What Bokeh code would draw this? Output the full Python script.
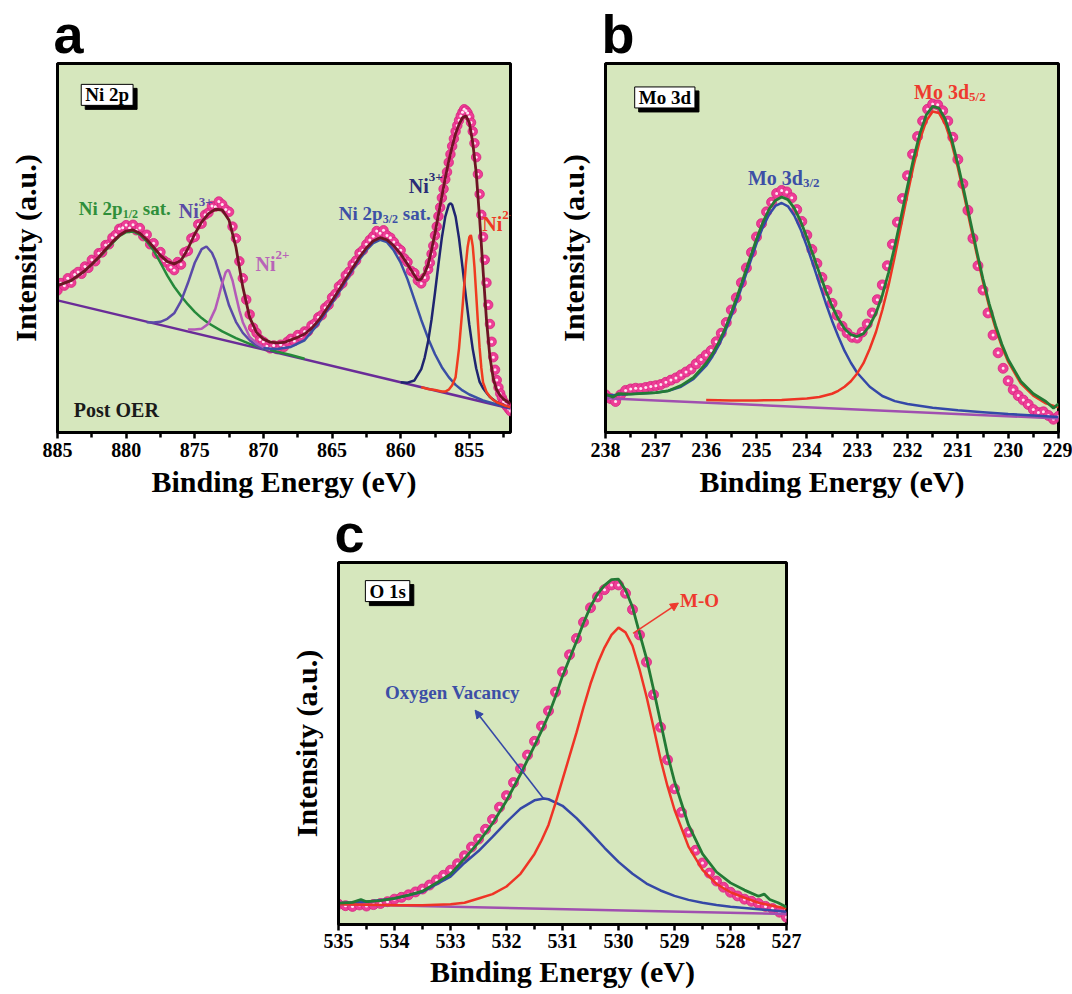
from bokeh.plotting import figure
from bokeh.models import Label, Arrow, NormalHead, FixedTicker, Range1d, Spacer
from bokeh.layouts import row, column
from bokeh.embed import file_html
from bokeh.resources import INLINE

# ---------------- data (binding energy eV, intensity in arbitrary units 0-100) ----------------
# Panel a : Ni 2p
a_ticks = [885, 880, 875, 870, 865, 860, 855]
a_minor = [882.5, 877.5, 872.5, 867.5, 862.5, 857.5, 852.5]
a_data = [
    (885.0, 38.5), (884.75, 40.5), (884.5, 39.8), (884.25, 41.8), (884.0, 40.6), (883.75, 42.8),
    (883.5, 43.5), (883.25, 43.0), (883.0, 45.0), (882.75, 44.6), (882.5, 46.8), (882.25, 46.4),
    (882.0, 48.6), (881.75, 48.8), (881.5, 50.8), (881.25, 51.0), (881.0, 52.8), (880.75, 53.6),
    (880.5, 55.2), (880.25, 55.5), (880.0, 56.2), (879.75, 55.4), (879.5, 56.3), (879.25, 54.8),
    (879.0, 55.4), (878.75, 53.2), (878.5, 53.6), (878.25, 51.0), (878.0, 51.3), (877.75, 48.4),
    (877.5, 48.9), (877.25, 46.6), (877.0, 46.0), (876.75, 44.8), (876.5, 44.0), (876.25, 46.2),
    (876.0, 45.5), (875.75, 48.8), (875.5, 49.2), (875.25, 52.6), (875.0, 53.0), (874.75, 56.4),
    (874.5, 56.6), (874.25, 59.0), (874.0, 59.6), (873.75, 61.4), (873.5, 61.2), (873.25, 62.6),
    (873.0, 61.8), (872.75, 60.4), (872.5, 59.8), (872.25, 55.8), (872.0, 52.6), (871.75, 46.4),
    (871.5, 41.8), (871.25, 36.0), (871.0, 32.0), (870.75, 28.4), (870.5, 27.0), (870.25, 25.2),
    (870.0, 24.6), (869.75, 23.4), (869.5, 22.8), (869.25, 23.6), (869.0, 22.6), (868.75, 23.8),
    (868.5, 23.2), (868.25, 24.6), (868.0, 25.4), (867.75, 24.8), (867.5, 26.4), (867.25, 26.0),
    (867.0, 27.4), (866.75, 27.4), (866.5, 29.0), (866.25, 29.6), (866.0, 31.2), (865.75, 31.8),
    (865.5, 33.8), (865.25, 34.6), (865.0, 36.6), (864.75, 37.6), (864.5, 39.6), (864.25, 40.4),
    (864.0, 42.6), (863.75, 43.6), (863.5, 45.6), (863.25, 46.6), (863.0, 48.6), (862.75, 49.4),
    (862.5, 51.0), (862.25, 52.2), (862.0, 53.2), (861.75, 54.6), (861.5, 54.0), (861.25, 54.8),
    (861.0, 53.4), (860.75, 52.8), (860.5, 51.6), (860.25, 50.2), (860.0, 49.4), (859.75, 47.2),
    (859.5, 46.2), (859.25, 43.8), (859.0, 43.2), (858.75, 41.2), (858.5, 40.4), (858.25, 42.0),
    (858.0, 44.2), (857.875, 46.0), (857.75, 48.4), (857.625, 50.6), (857.5, 53.4), (857.375, 55.8),
    (857.25, 58.6), (857.125, 61.0), (857.0, 63.6), (856.875, 66.0), (856.75, 68.6), (856.625, 70.6),
    (856.5, 73.2), (856.375, 75.4), (856.25, 77.6), (856.125, 79.6), (856.0, 81.6), (855.875, 83.2),
    (855.75, 84.6), (855.625, 85.8), (855.5, 86.8), (855.375, 87.6), (855.25, 87.2), (855.125, 86.6),
    (855.0, 85.6), (854.875, 84.0), (854.75, 81.6), (854.625, 78.4), (854.5, 74.6), (854.375, 70.0),
    (854.25, 64.6), (854.125, 59.0), (854.0, 53.0), (853.875, 46.8), (853.75, 40.6), (853.625, 34.6),
    (853.5, 29.4), (853.375, 24.6), (853.25, 20.4), (853.125, 17.0), (853.0, 14.2), (852.875, 12.2),
    (852.75, 10.6), (852.625, 9.4), (852.5, 8.4), (852.375, 7.6), (852.25, 7.0), (852.125, 6.4),
    (852.0, 5.8),
]
a_envelope = [
    (885, 39.8), (884.5, 40.5), (884, 41.2), (883.5, 42.5), (883, 43.9), (882.5, 45.6), (882, 47.5),
    (881.5, 49.6), (881, 51.6), (880.5, 53.4), (880, 54.6), (879.5, 54.9), (879, 54.0), (878.5, 52.3),
    (878, 50.2), (877.5, 48.0), (877, 46.3), (876.5, 45.7), (876, 46.6), (875.5, 49.8), (875, 53.8),
    (874.5, 57.0), (874, 59.3), (873.5, 60.5), (873, 60.3), (872.5, 57.5), (872, 50.2), (871.5, 39.4),
    (871, 31.2), (870.5, 27.1), (870, 25.3), (869.5, 24.5), (869, 24.3), (868.5, 24.4), (868, 25.1),
    (867.5, 25.8), (867, 26.7), (866.5, 28.2), (866, 30.3), (865.5, 32.9), (865, 35.7), (864.5, 38.6),
    (864, 41.6), (863.5, 44.6), (863, 47.5), (862.5, 50.0), (862, 51.9), (861.5, 52.8), (861, 52.2),
    (860.5, 50.6), (860, 48.4), (859.5, 45.6), (859, 42.6), (858.75, 41.2), (858.5, 41.6),
    (858.25, 43.2), (858, 45.5), (857.75, 49.5), (857.5, 54.0), (857.25, 59.0), (857, 64.0),
    (856.75, 69.0), (856.5, 73.5), (856.25, 77.5), (856, 81.0), (855.75, 83.5), (855.5, 85.3),
    (855.25, 85.8), (855, 84.0), (854.75, 78.5), (854.5, 70.5), (854.25, 58.0), (854, 44.0),
    (853.75, 30.5), (853.5, 20.5), (853.25, 14.5), (853, 11.5), (852.75, 10.0), (852.5, 9.0),
    (852.25, 8.4), (852, 7.8),
]
a_sat_12 = [
    (885, 39.8), (884, 41.2), (883, 43.8), (882, 47.3), (881, 51.3), (880.5, 53.2), (880, 54.3),
    (879.5, 54.5), (879, 53.6), (878.5, 51.8), (878, 49.3), (877.5, 46.0), (877, 42.5), (876.5, 39.5),
    (876, 37.0), (875.5, 34.7), (875, 32.7), (874.5, 31.0), (874, 29.6), (873, 27.4), (872, 25.6),
    (871, 24.0), (870, 22.8), (869, 21.9), (868, 21.0), (867, 20.0),
]
a_ni3_12 = [
    (878.5, 29.9), (878, 29.8), (877.5, 30.0), (877, 30.8), (876.5, 32.3), (876, 35.6), (875.5, 40.5),
    (875, 46.0), (874.5, 49.7), (874.15, 50.4), (873.75, 48.7), (873.5, 46.6), (873, 40.7),
    (872.5, 34.4), (872, 30.0), (871.5, 27.0), (871, 25.0), (870.5, 23.6), (870, 22.6),
]
a_ni2_12 = [
    (875.5, 27.9), (875, 27.9), (874.5, 28.1), (874, 29.5), (873.5, 33.5), (873.25, 36.9), (873, 40.5),
    (872.75, 43.4), (872.58, 44.1), (872.5, 43.8), (872.25, 41.2), (872, 37.1), (871.75, 33.1),
    (871.5, 29.9), (871, 25.9), (870.5, 24.2), (870, 23.1), (869.5, 22.4),
]
a_sat_32 = [
    (870, 22.8), (869, 22.6), (868, 23.2), (867, 25.0), (866, 29.5), (865.5, 32.3), (865, 35.1),
    (864.5, 38.0), (864, 41.0), (863.5, 44.0), (863, 46.9), (862.5, 49.4), (862, 51.3), (861.5, 52.2),
    (861, 51.6), (860.5, 49.3), (860, 46.0), (859.5, 41.5), (859, 36.0), (858.5, 30.5), (858, 25.5),
    (857.5, 21.2), (857, 17.7), (856.5, 15.0), (856, 12.9), (855.5, 11.4), (855, 10.3), (854, 8.7),
    (853, 7.6), (852, 6.6),
]
a_ni3_32 = [
    (860, 13.6), (859.5, 13.5), (859, 14.1), (858.5, 17.2), (858.25, 20.3), (858, 24.7), (857.75, 30.7),
    (857.5, 37.9), (857.25, 45.6), (857, 52.8), (856.75, 58.5), (856.5, 61.7), (856.36, 62.1),
    (856.25, 61.7), (856, 58.5), (855.75, 52.6), (855.5, 44.9), (855.25, 36.8), (855, 29.2),
    (854.75, 22.6), (854.5, 17.4), (854.25, 13.7), (854, 12.0), (853.75, 10.8), (853.5, 9.6),
    (853, 8.2), (852.5, 7.4), (852, 6.8),
]
a_ni2_32 = [
    (858.5, 12.3), (858, 11.8), (857.5, 11.5), (857, 11.1), (856.75, 11.1), (856.5, 11.6), (856.25, 12.8),
    (856, 15.0), (855.75, 22.8), (855.5, 33.7), (855.25, 45.6), (855.125, 50.2), (855, 52.9),
    (854.91, 53.4), (854.875, 53.3), (854.75, 50.5), (854.625, 44.9), (854.5, 37.5), (854.375, 29.9),
    (854.25, 23.0), (854.125, 17.5), (854, 13.6), (853.75, 11.0), (853.5, 9.7), (853.25, 8.8),
    (853, 8.2), (852.5, 7.4), (852, 6.8),
]
a_background = [(885, 35.8), (852, 6.5)]

# Panel b : Mo 3d
b_ticks = [238, 237, 236, 235, 234, 233, 232, 231, 230, 229]
b_minor = [237.5, 236.5, 235.5, 234.5, 233.5, 232.5, 231.5, 230.5, 229.5]
b_data = [
    (238.0, 10.2), (237.9, 9.2), (237.8, 8.4), (237.7, 10.2), (237.6, 11.4), (237.5, 11.8), (237.4, 12.0),
    (237.3, 11.9), (237.2, 12.2), (237.1, 12.5), (237.0, 12.7), (236.9, 13.0), (236.8, 13.6), (236.7, 14.2),
    (236.6, 14.8), (236.5, 15.6), (236.4, 16.4), (236.3, 17.2), (236.2, 18.6), (236.1, 19.8), (236.0, 21.0),
    (235.9, 22.2), (235.8, 24.6), (235.7, 26.9), (235.6, 29.8), (235.5, 33.2), (235.4, 36.5), (235.3, 40.6),
    (235.2, 44.6), (235.1, 48.8), (235.0, 53.0), (234.9, 56.6), (234.8, 59.8), (234.7, 62.4), (234.6, 64.8),
    (234.5, 65.6), (234.4, 65.2), (234.3, 63.6), (234.2, 60.4), (234.1, 57.2), (234.0, 53.5), (233.9, 49.6),
    (233.8, 45.8), (233.7, 42.0), (233.6, 38.5), (233.5, 35.0), (233.4, 31.8), (233.3, 28.8), (233.2, 27.0),
    (233.1, 25.8), (233.0, 25.6), (232.9, 27.2), (232.8, 29.4), (232.7, 32.4), (232.6, 36.0), (232.5, 40.0),
    (232.4, 45.2), (232.3, 51.0), (232.2, 57.0), (232.1, 63.4), (232.0, 69.6), (231.9, 75.4), (231.8, 80.2),
    (231.7, 84.4), (231.6, 87.6), (231.5, 89.0), (231.4, 88.8), (231.3, 87.2), (231.2, 84.4), (231.1, 80.0),
    (231.0, 74.0), (230.9, 67.4), (230.8, 60.2), (230.7, 52.6), (230.6, 45.2), (230.5, 38.6), (230.4, 32.4),
    (230.3, 26.4), (230.2, 21.6), (230.1, 17.4), (230.0, 14.0), (229.9, 11.6), (229.8, 10.0), (229.7, 8.8),
    (229.6, 7.6), (229.5, 6.2), (229.4, 5.4), (229.3, 5.6), (229.2, 4.6), (229.1, 3.6), (229.0, 4.4),
]
b_envelope = [
    (238.0, 10.4), (237.85, 9.6), (237.75, 10.5), (237.5, 10.4), (237.0, 10.8), (236.75, 11.3),
    (236.5, 12.7), (236.25, 14.9), (236.0, 18.8), (235.875, 21.3), (235.75, 24.4), (235.625, 28.1),
    (235.5, 32.5), (235.375, 37.2), (235.25, 42.3), (235.125, 47.4), (235.0, 52.4), (234.875, 56.9),
    (234.75, 60.5), (234.625, 62.9), (234.5, 63.8), (234.375, 63.1), (234.25, 60.8), (234.125, 57.3),
    (234.0, 52.9), (233.875, 48.1), (233.75, 43.2), (233.625, 38.5), (233.5, 34.3), (233.375, 30.8),
    (233.25, 28.1), (233.125, 26.5), (233.0, 26.0), (232.875, 26.8), (232.75, 29.0), (232.625, 32.4),
    (232.5, 37.2), (232.375, 43.4), (232.25, 50.6), (232.125, 58.6), (232.0, 66.7), (231.875, 74.5),
    (231.75, 81.2), (231.625, 86.1), (231.5, 88.4), (231.375, 87.9), (231.25, 84.9), (231.125, 79.6),
    (231.0, 72.8), (230.875, 65.2), (230.75, 57.2), (230.625, 49.2), (230.5, 41.6), (230.375, 34.8),
    (230.25, 29.0), (230.125, 23.9), (230.0, 19.8), (229.75, 13.9), (229.5, 10.5), (229.25, 8.4),
    (229.1, 6.6), (229.0, 7.8),
]
b_mo_32 = [
    (238.0, 10.0), (237.5, 10.4), (237.0, 10.8), (236.75, 11.3), (236.5, 12.4), (236.25, 14.5),
    (236.0, 18.1), (235.875, 20.6), (235.75, 23.6), (235.625, 27.3), (235.5, 31.6), (235.375, 36.2),
    (235.25, 41.2), (235.125, 46.2), (235.0, 51.2), (234.875, 55.6), (234.75, 59.1), (234.625, 61.4),
    (234.5, 62.2), (234.375, 61.3), (234.25, 58.8), (234.125, 55.1), (234.0, 50.5), (233.875, 45.5),
    (233.75, 40.3), (233.625, 35.1), (233.5, 30.3), (233.375, 26.0), (233.25, 22.1), (233.125, 18.9),
    (233.0, 16.2), (232.75, 12.4), (232.5, 9.9), (232.25, 8.5), (232.0, 7.7), (231.5, 6.7), (231.0, 6.0),
    (230.5, 5.5), (230.0, 5.0), (229.5, 4.6), (229.0, 4.2),
]
b_mo_52 = [
    (236.0, 8.8), (235.5, 8.7), (235.0, 8.7), (234.5, 8.8), (234.0, 9.2), (233.75, 9.6), (233.5, 10.5),
    (233.375, 11.3), (233.25, 12.4), (233.125, 13.9), (233.0, 16.0), (232.875, 18.8), (232.75, 22.7),
    (232.625, 27.3), (232.5, 33.2), (232.375, 40.0), (232.25, 47.9), (232.125, 56.2), (232.0, 64.6),
    (231.875, 72.6), (231.75, 79.5), (231.625, 84.5), (231.5, 87.0), (231.375, 86.6), (231.25, 83.6),
    (231.125, 78.5), (231.0, 71.8), (230.875, 64.2), (230.75, 56.2), (230.625, 48.4), (230.5, 40.8),
    (230.375, 34.0), (230.25, 28.2), (230.125, 23.3), (230.0, 19.2), (229.75, 13.3), (229.5, 10.0),
    (229.25, 7.9), (229.0, 6.8),
]
b_background = [(238.0, 9.3), (229.0, 3.8)]

# Panel c : O 1s
c_ticks = [535, 534, 533, 532, 531, 530, 529, 528, 527]
c_minor = [534.5, 533.5, 532.5, 531.5, 530.5, 529.5, 528.5, 527.5]
c_data = [
    (535.0, 5.6), (534.875, 5.2), (534.75, 5.0), (534.625, 5.4), (534.5, 5.1), (534.375, 5.5),
    (534.25, 5.8), (534.125, 6.3), (534.0, 7.0), (533.875, 7.5), (533.75, 8.2), (533.625, 9.0),
    (533.5, 9.8), (533.375, 10.9), (533.25, 12.3), (533.125, 13.6), (533.0, 15.0), (532.875, 16.8),
    (532.75, 19.0), (532.625, 21.4), (532.5, 23.6), (532.375, 26.3), (532.25, 29.0), (532.125, 32.4),
    (532.0, 35.6), (531.875, 39.2), (531.75, 43.0), (531.625, 46.8), (531.5, 50.6), (531.375, 54.8),
    (531.25, 59.0), (531.125, 64.2), (531.0, 69.8), (530.875, 74.5), (530.75, 79.0), (530.625, 83.5),
    (530.5, 87.5), (530.375, 90.5), (530.25, 92.5), (530.125, 93.8), (530.0, 93.8), (529.875, 91.5),
    (529.75, 87.0), (529.625, 80.0), (529.5, 72.5), (529.375, 63.5), (529.25, 54.5), (529.125, 45.5),
    (529.0, 37.5), (528.875, 31.0), (528.75, 25.5), (528.625, 20.5), (528.5, 17.0), (528.375, 14.2),
    (528.25, 12.0), (528.125, 10.3), (528.0, 8.9), (527.875, 7.9), (527.75, 7.0), (527.625, 6.4),
    (527.5, 5.8), (527.375, 5.0), (527.25, 4.4), (527.125, 3.4), (527.0, 2.0),
]
c_envelope = [
    (535, 5.9), (534.75, 6.1), (534.6, 6.9), (534.5, 6.3), (534.25, 6.6), (534, 7.2), (533.75, 8.1),
    (533.5, 9.2), (533.25, 11.5), (533, 13.9), (532.75, 18.2), (532.5, 22.7), (532.25, 27.9), (532, 34.2),
    (531.75, 41.5), (531.5, 49.4), (531.375, 53.5), (531.25, 57.8), (531.125, 63.0), (531, 68.6),
    (530.875, 73.4), (530.75, 78.2), (530.625, 83.3), (530.5, 87.8), (530.375, 91.3), (530.25, 93.7),
    (530.125, 95.25), (530, 95.4), (529.875, 92.4), (529.75, 87.7), (529.625, 80.5), (529.5, 73.5),
    (529.375, 65.0), (529.25, 56.0), (529.125, 47.0), (529, 39.5), (528.75, 27.5), (528.5, 19.5),
    (528.25, 14.5), (528, 11.5), (527.75, 9.5), (527.5, 7.8), (527.4, 8.4), (527.3, 6.9), (527.15, 6.0),
    (527, 4.8),
]
c_vacancy = [
    (535, 5.9), (534.5, 6.3), (534, 7.2), (533.5, 9.0), (533, 13.2), (532.75, 17.0), (532.5, 20.3),
    (532.25, 24.2), (532, 28.3), (531.75, 32.0), (531.5, 34.3), (531.33, 34.8), (531.25, 34.6),
    (531, 32.8), (530.75, 29.4), (530.5, 25.4), (530.25, 21.2), (530, 17.3), (529.75, 14.0),
    (529.5, 11.3), (529.25, 9.4), (529, 7.9), (528.75, 6.8), (528.5, 6.0), (528.25, 5.4), (528, 4.9),
    (527.5, 4.2), (527, 3.5),
]
c_mo = [
    (535, 5.6), (534.5, 5.45), (534, 5.3), (533.5, 5.3), (533, 5.6), (532.75, 6.0), (532.5, 7.2),
    (532.25, 8.4), (532, 10.5), (531.75, 14.0), (531.5, 19.5), (531.375, 23.2), (531.25, 27.5),
    (531.125, 33.5), (531, 40.0), (530.875, 46.5), (530.75, 53.0), (530.625, 60.0), (530.5, 66.5),
    (530.375, 72.0), (530.25, 76.5), (530.125, 80.0), (530, 82.0), (529.875, 80.7), (529.75, 77.0),
    (529.625, 70.5), (529.5, 63.0), (529.375, 54.5), (529.25, 45.7), (529.125, 38.2), (529, 31.7),
    (528.75, 21.5), (528.5, 15.1), (528.25, 11.2), (528, 8.9), (527.75, 7.4), (527.5, 6.0),
    (527.25, 5.2), (527, 4.4),
]
c_background = [(535, 5.6), (527, 2.9)]

# ---------------- styling ----------------
SERIF = "Liberation Serif"
SANS = "Liberation Sans"
BG = "#d6e7bd"
PINK_FILL = "#ee3d96"
PINK_LINE = "#d6237f"


def xs(pairs):
    return [p[0] for p in pairs]


def ys(pairs):
    return [p[1] for p in pairs]


def make_fig(xr, fw, fh, bl, br, bt, bb, ticks, minor, letter, tick_standoff, title_standoff):
    p = figure(x_range=Range1d(xr[0], xr[1]), y_range=Range1d(0, 100),
               frame_width=fw, frame_height=fh,
               min_border_left=bl, min_border_right=br, min_border_top=bt, min_border_bottom=bb,
               output_backend="svg", toolbar_location=None,
               background_fill_color=BG, border_fill_color="white")
    p.grid.visible = False
    p.outline_line_color = "black"
    p.outline_line_width = 3
    # panel letter
    p.title.text = letter
    p.title.text_font = SANS
    p.title.text_font_style = "bold"
    p.title.text_font_size = "54px"
    p.title.text_color = "black"
    p.title.align = "left"
    p.title.standoff = 0
    p.title.offset = -4
    xa = p.xaxis[0]
    xa.ticker = FixedTicker(ticks=ticks, minor_ticks=minor)
    xa.axis_label = "Binding Energy (eV)"
    xa.axis_label_text_font = SERIF
    xa.axis_label_text_font_style = "bold"
    xa.axis_label_text_font_size = "30px"
    xa.axis_label_text_color = "black"
    xa.axis_label_standoff = title_standoff
    xa.major_label_text_font = SERIF
    xa.major_label_text_font_style = "bold"
    xa.major_label_text_font_size = "20px"
    xa.major_label_text_color = "black"
    xa.major_label_standoff = tick_standoff
    xa.axis_line_width = 3
    xa.major_tick_in = 0
    xa.major_tick_out = 6
    xa.major_tick_line_width = 2.5
    xa.minor_tick_in = 0
    xa.minor_tick_out = 5
    xa.minor_tick_line_width = 2.5
    ya = p.yaxis[0]
    ya.ticker = FixedTicker(ticks=[])
    ya.axis_label = "Intensity (a.u.)"
    ya.axis_label_text_font = SERIF
    ya.axis_label_text_font_style = "bold"
    ya.axis_label_text_font_size = "30px"
    ya.axis_label_text_color = "black"
    ya.axis_label_standoff = 16
    ya.major_label_text_font_size = "0px"
    ya.major_label_standoff = 0
    ya.major_tick_out = 0
    ya.major_tick_in = 0
    ya.minor_tick_out = 0
    ya.minor_tick_in = 0
    ya.axis_line_width = 3
    return p


def data_points(p, pairs, size=9):
    p.scatter(xs(pairs), ys(pairs), marker="circle", size=size,
              fill_color=PINK_FILL, line_color=PINK_LINE, line_width=0.8)
    p.scatter(xs(pairs), ys(pairs), marker="circle", size=3,
              fill_color="#fde6f1", line_color=None)


def curve(p, pairs, color, width=2.5):
    p.line(xs(pairs), ys(pairs), line_color=color, line_width=width)


def txt(p, x, y, s, color, size=20, dx=0, dy=0, font=SERIF, style="bold"):
    p.add_layout(Label(x=x, y=y, x_offset=dx, y_offset=dy, text=s, text_color=color,
                       text_font=font, text_font_style=style, text_font_size=f"{size}px",
                       text_align="left", text_baseline="alphabetic"))


def boxed(p, x, y, s):
    common = dict(x=x, y=y, text=s, text_font=SERIF, text_font_style="bold",
                  text_font_size="19px", text_align="left", text_baseline="alphabetic",
                  padding=(4, 0))
    p.add_layout(Label(x_offset=4, y_offset=-4, text_color="black",
                       background_fill_color="black", border_line_color="black", **common))
    p.add_layout(Label(text_color="black", background_fill_color="white",
                       border_line_color="black", border_line_width=1, **common))


# ---------------- panel a ----------------
pa = make_fig((885, 852), 453, 369, 57, 43, 63, 60, a_ticks, a_minor, "a", 4, 5)
data_points(pa, a_data, size=9.5)
curve(pa, a_background, "#6a2c98")
curve(pa, a_sat_12, "#25893a")
curve(pa, a_ni3_12, "#5b4aa8")
curve(pa, a_ni2_12, "#b45ab8")
curve(pa, a_sat_32, "#3a4fa5")
curve(pa, a_ni3_32, "#1f2470")
curve(pa, a_ni2_32, "#f03b20")
curve(pa, a_envelope, "#6e1424", 2.8)
boxed(pa, 883.27, 91.5, "Ni 2p")
txt(pa, 883.45, 60.6, "Ni 2p", "#2f8f3a", size=19)
txt(pa, 883.45, 60.6, "1/2", "#2f8f3a", size=12, dx=44, dy=-5)
txt(pa, 883.45, 60.6, "sat.", "#2f8f3a", size=19, dx=64)
txt(pa, 876.16, 60.0, "Ni", "#5a4ba6")
txt(pa, 876.16, 60.0, "3+", "#5a4ba6", size=13, dx=20, dy=9)
txt(pa, 870.58, 45.7, "Ni", "#b864b8")
txt(pa, 870.58, 45.7, "2+", "#b864b8", size=13, dx=20, dy=9)
txt(pa, 864.51, 59.3, "Ni 2p", "#3d50a6", size=19)
txt(pa, 864.51, 59.3, "3/2", "#3d50a6", size=12, dx=44, dy=-5)
txt(pa, 864.51, 59.3, "sat.", "#3d50a6", size=19, dx=64)
txt(pa, 859.41, 66.9, "Ni", "#2a2c77")
txt(pa, 859.41, 66.9, "3+", "#2a2c77", size=13, dx=20, dy=9)
txt(pa, 854.06, 56.6, "Ni", "#ef3a24")
txt(pa, 854.06, 56.6, "2+", "#ef3a24", size=13, dx=20, dy=9)
txt(pa, 883.81, 6.0, "Post OER", "#1a1a1a")

# ---------------- panel b ----------------
pb = make_fig((238, 229), 453, 369, 52, 14, 63, 60, b_ticks, b_minor, "b", 4, 5)
data_points(pb, b_data, size=10)
curve(pb, b_background, "#a04fb0")
curve(pb, b_mo_32, "#3448a8")
curve(pb, b_mo_52, "#ee3324")
curve(pb, b_envelope, "#237a35", 2.8)
boxed(pb, 237.42, 90.8, "Mo 3d")
txt(pb, 235.17, 69.1, "Mo 3d", "#3d4fa6")
txt(pb, 235.17, 69.1, "3/2", "#3d4fa6", size=13, dx=55, dy=-5)
txt(pb, 231.87, 92.3, "Mo 3d", "#ee3a2e")
txt(pb, 231.87, 92.3, "5/2", "#ee3a2e", size=13, dx=55, dy=-5)

# ---------------- panel c ----------------
pc = make_fig((535, 527), 448, 362, 52, 20, 59, 60, c_ticks, c_minor, "c", 3, 4)
data_points(pc, c_data, size=10)
curve(pc, c_background, "#a04fb0")
curve(pc, c_vacancy, "#3548a6")
curve(pc, c_mo, "#ef3426")
curve(pc, c_envelope, "#237a35", 2.8)
boxed(pc, 534.52, 92.1, "O 1s")
txt(pc, 528.9, 89.4, "M-O", "#ee3a2e", size=19)
txt(pc, 534.17, 64.0, "Oxygen Vacancy", "#3d4fa6", size=19)
pc.add_layout(Arrow(end=NormalHead(size=8, fill_color="#ee3a2e", line_color="#ee3a2e"),
                    x_start=529.74, y_start=80.4, x_end=528.93, y_end=88.8,
                    line_color="#ee3a2e", line_width=1.6))
pc.add_layout(Arrow(end=NormalHead(size=8, fill_color="#3548a6", line_color="#3548a6"),
                    x_start=531.34, y_start=34.8, x_end=532.56, y_end=59.2,
                    line_color="#3548a6", line_width=1.6))

layout = column(row(pa, pb), row(Spacer(width=286, height=1), pc))

with open("out.html", "w") as f:
    f.write(file_html(layout, INLINE))
